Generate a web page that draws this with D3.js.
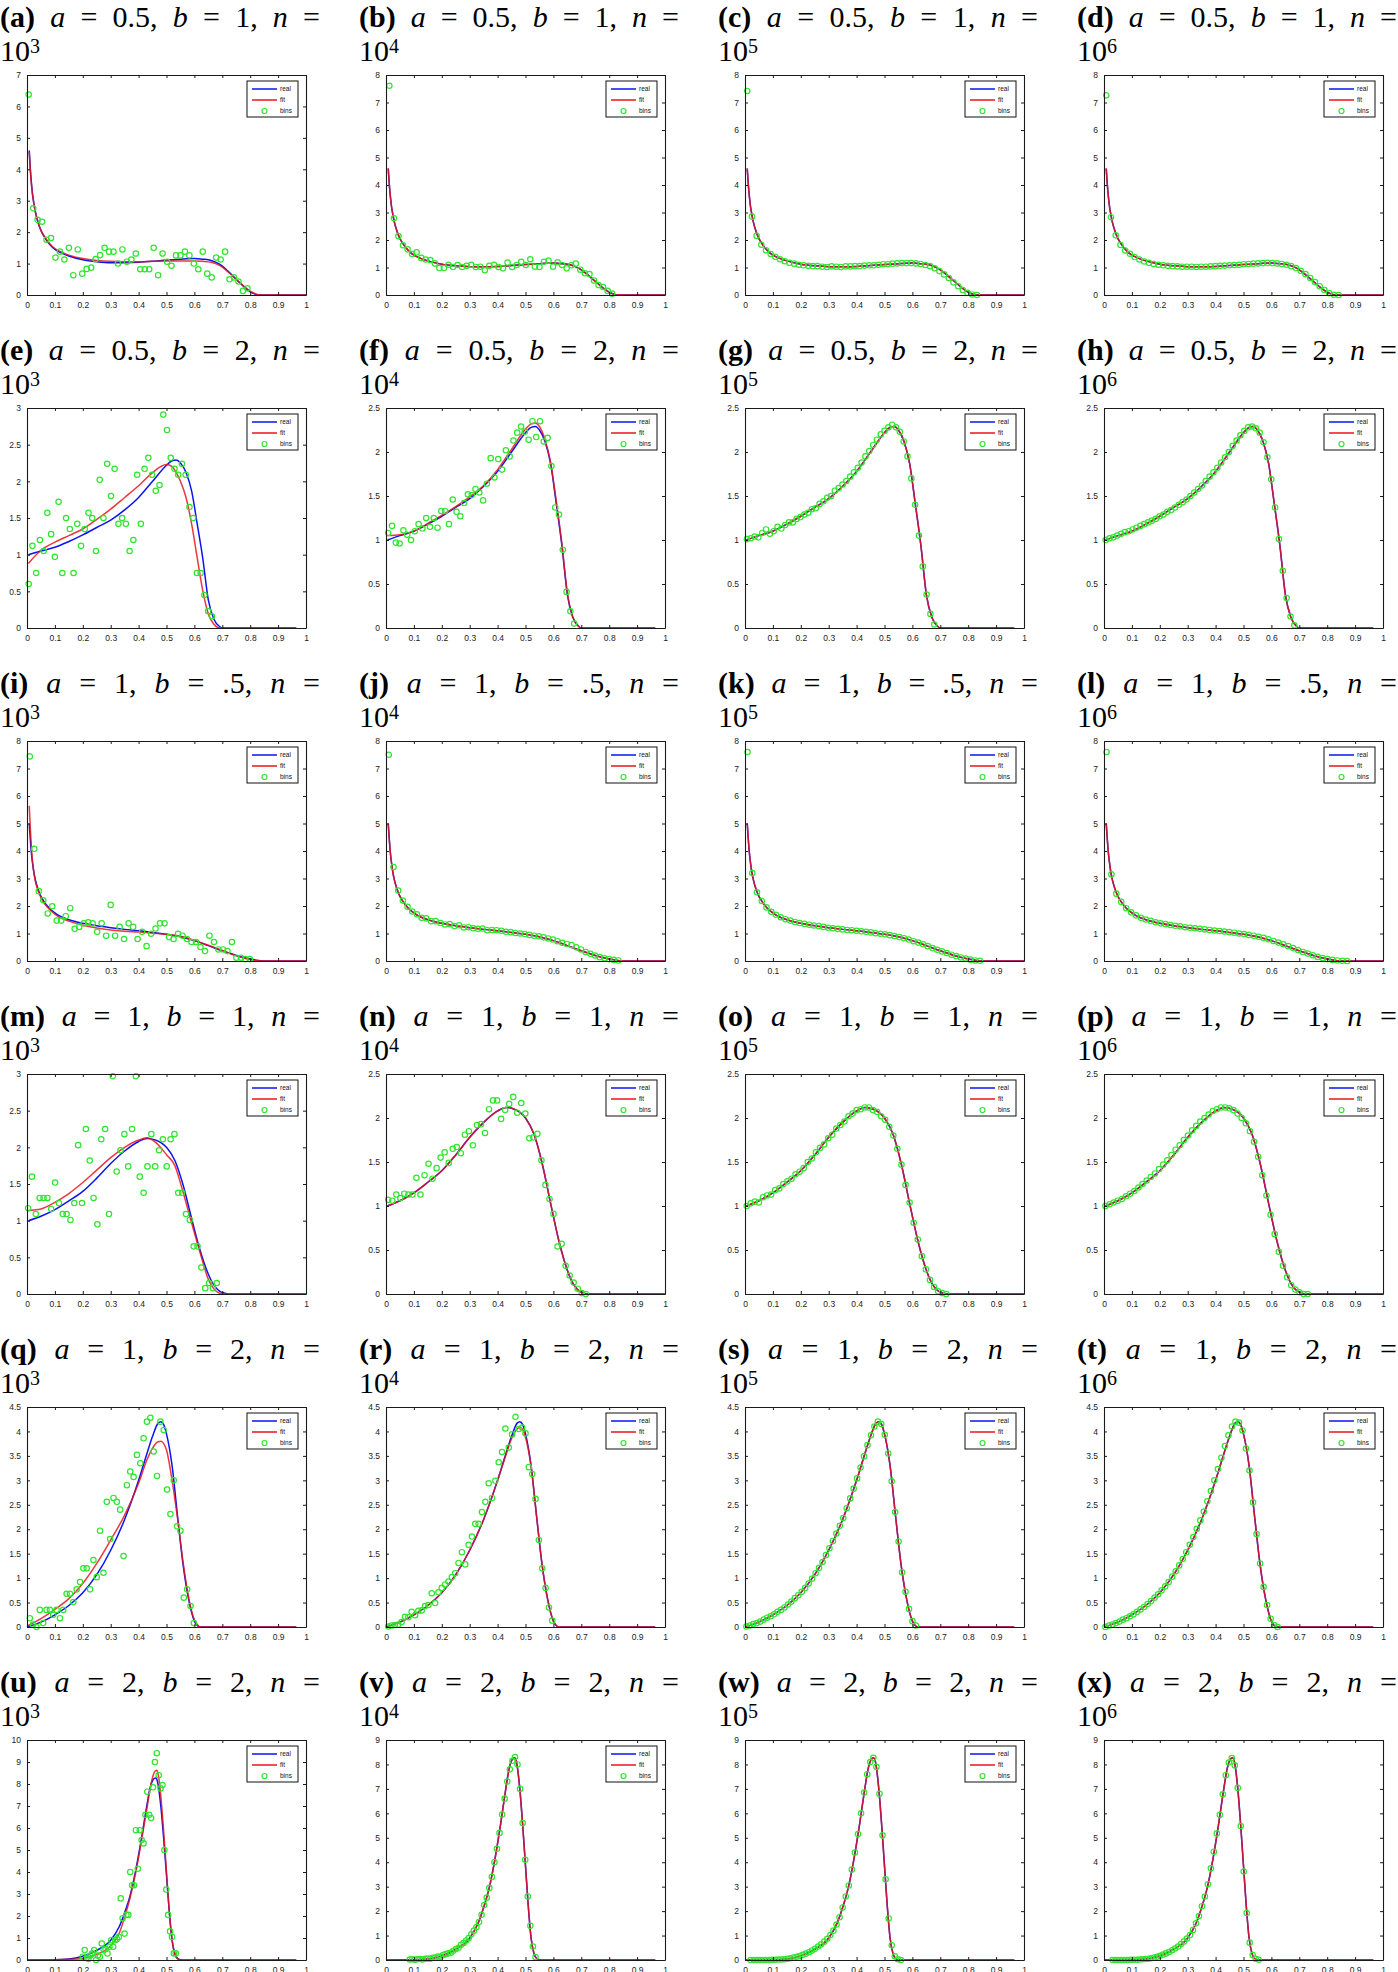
<!DOCTYPE html>
<html>
<head>
<meta charset="utf-8">
<script src="https://cdn.jsdelivr.net/npm/d3@7"></script>
<style>
  body { margin: 0; background: #fff; }
</style>
</head>
<body>
<svg id="chart" width="1398" height="1972"></svg>
<script>
// panel labels and parameters
const panelLetters = "abcdefghijklmnopqrstuvwx".split("");
const rowA = ["0.5", "0.5", "1", "1", "1", "2"];
const rowB = ["1", "2", ".5", "1", "2", "2"];
const sampleExp = ["3", "4", "5", "6"];
const noLegend = ["x"];

// axis ticks
const xTicks = [0, 0.1, 0.2, 0.3, 0.4, 0.5, 0.6, 0.7, 0.8, 0.9, 1];
const yTicks7 = [0, 1, 2, 3, 4, 5, 6, 7];
const yTicks8 = [0, 1, 2, 3, 4, 5, 6, 7, 8];
const yTicks3 = [0, 0.5, 1, 1.5, 2, 2.5, 3];
const yTicks25 = [0, 0.5, 1, 1.5, 2, 2.5];
const yTicks45 = [0, 0.5, 1, 1.5, 2, 2.5, 3, 3.5, 4, 4.5];
const yTicks9 = [0, 1, 2, 3, 4, 5, 6, 7, 8, 9];
const yTicks10 = [0, 1, 2, 3, 4, 5, 6, 7, 8, 9, 10];
const panelYTicks = [
  yTicks7, yTicks8, yTicks8, yTicks8,
  yTicks3, yTicks25, yTicks25, yTicks25,
  yTicks8, yTicks8, yTicks8, yTicks8,
  yTicks3, yTicks25, yTicks25, yTicks25,
  yTicks45, yTicks45, yTicks45, yTicks45,
  yTicks10, yTicks9, yTicks9, yTicks9
];

// real density curves, one per row (a, b)
const realX0 = [0.008,0.012,0.016,0.02,0.025,0.03,0.04,0.05,0.06,0.08,0.1,0.12,0.15,0.2,0.25,0.3,0.35,0.4,0.45,0.5,0.55,0.6,0.63,0.66,0.69,0.72,0.75,0.78,0.8,0.82,0.835,0.85,1.0];
const realY0 = [4.6,4.0,3.55,3.2,2.9,2.65,2.3,2.05,1.88,1.62,1.45,1.35,1.24,1.12,1.06,1.03,1.03,1.04,1.07,1.11,1.14,1.16,1.14,1.1,0.98,0.76,0.5,0.24,0.1,0.02,0,0,0];
const fitA0 = [4.55,3.95,3.5,3.17,2.88,2.64,2.3,2.06,1.9,1.65,1.48,1.38,1.27,1.16,1.1,1.07,1.06,1.06,1.07,1.08,1.08,1.08,1.07,1.04,0.94,0.74,0.5,0.26,0.12,0.03,0,0,0];

const realX1 = [0.005,0.05,0.1,0.15,0.2,0.25,0.3,0.35,0.4,0.45,0.5,0.52,0.535,0.55,0.57,0.59,0.61,0.63,0.65,0.67,0.69,0.7,0.965];
const realY1 = [1.0,1.05,1.1,1.18,1.27,1.37,1.47,1.61,1.78,2.0,2.22,2.28,2.29,2.25,2.12,1.87,1.42,0.95,0.38,0.12,0.02,0,0];
const fitE1 = [0.88,1.06,1.17,1.26,1.35,1.48,1.62,1.78,1.94,2.12,2.23,2.2,2.12,2.0,1.78,1.42,0.96,0.51,0.19,0.05,0,0,0];
const fitF1 = [1.05,1.06,1.1,1.19,1.28,1.38,1.49,1.62,1.8,2.03,2.26,2.32,2.33,2.29,2.14,1.88,1.45,0.97,0.4,0.12,0.02,0,0];

const realX2 = [0.008,0.012,0.016,0.02,0.025,0.03,0.04,0.05,0.06,0.08,0.1,0.12,0.15,0.2,0.25,0.3,0.35,0.4,0.45,0.5,0.55,0.6,0.65,0.7,0.75,0.8,0.83,0.86,1.0];
const realY2 = [5.0,4.4,3.9,3.55,3.2,2.95,2.6,2.35,2.18,1.92,1.75,1.62,1.5,1.37,1.28,1.21,1.15,1.1,1.04,0.97,0.88,0.74,0.56,0.37,0.2,0.07,0.02,0,0];
const fitI2 = [5.64,4.8,4.1,3.6,3.2,2.9,2.55,2.3,2.12,1.88,1.7,1.57,1.45,1.3,1.2,1.13,1.08,1.05,1.01,0.97,0.9,0.75,0.57,0.38,0.19,0.05,0.01,0,0];

const realX3 = [0.005,0.05,0.1,0.15,0.2,0.25,0.3,0.35,0.4,0.43,0.46,0.5,0.53,0.56,0.59,0.62,0.65,0.67,0.69,0.71,0.72,1.0];
const realY3 = [1.0,1.06,1.15,1.27,1.4,1.58,1.78,1.95,2.08,2.12,2.1,2.0,1.82,1.48,1.03,0.6,0.27,0.12,0.04,0.01,0,0];
const fitM3 = [1.14,1.16,1.25,1.37,1.52,1.69,1.86,2.0,2.1,2.13,2.07,1.9,1.75,1.38,0.97,0.57,0.2,0.07,0.01,0,0,0];

const realX4 = [0.0,0.05,0.1,0.15,0.2,0.25,0.3,0.35,0.4,0.43,0.45,0.47,0.48,0.49,0.5,0.52,0.54,0.56,0.58,0.6,0.61,0.62,0.965];
const realY4 = [0,0.1,0.25,0.44,0.7,1.07,1.57,2.2,3.0,3.55,3.9,4.17,4.2,4.14,3.95,3.3,2.25,1.25,0.55,0.12,0.03,0,0];
const fitQ4 = [0.02,0.17,0.36,0.58,0.89,1.3,1.78,2.29,2.94,3.42,3.66,3.79,3.8,3.75,3.62,3.0,2.2,1.3,0.58,0.15,0.05,0,0];
const fitR4 = [0,0.1,0.25,0.44,0.7,1.07,1.57,2.2,3.0,3.52,3.85,4.05,4.08,4.04,3.88,3.28,2.25,1.25,0.55,0.12,0.03,0,0];

const realX5 = [0.0,0.1,0.15,0.2,0.25,0.3,0.33,0.35,0.37,0.39,0.41,0.43,0.44,0.45,0.46,0.465,0.47,0.48,0.49,0.5,0.51,0.52,0.53,0.54,0.55,0.56,0.965];
const realY5 = [0,0.01,0.04,0.17,0.44,0.9,1.5,2.15,2.95,4.1,5.5,7.05,7.75,8.15,8.27,8.22,7.95,6.95,5.5,3.85,2.2,0.9,0.28,0.06,0.01,0,0];
const fitU5 = [0,0.01,0.03,0.07,0.25,0.65,1.2,1.95,2.85,4.0,5.4,6.9,7.7,8.3,8.6,8.62,8.45,7.4,5.8,4.0,2.2,0.9,0.25,0.05,0,0,0];

// histogram bins: first bin centre, bin width, heights
const binStart = [0.006,0.012,0.008,0.008, 0.006,0.008,0.007,0.006, 0.01,0.01,0.009,0.009, 0.004,0.008,0.006,0.005, 0.01,0.008,0.005,0.005, 0.2,0.085,0.02,0.03];
const binStep  = [0.016,0.0163,0.0168,0.017, 0.0134,0.0136,0.0137,0.0138, 0.0161,0.0168,0.017,0.0176, 0.0138,0.01445,0.0146,0.0148, 0.012,0.012,0.0124,0.0126, 0.0068,0.0092,0.011,0.0107];

const binsA = [6.38,2.76,2.39,2.33,1.76,1.81,1.19,1.38,1.13,1.5,0.63,1.45,0.68,0.83,0.87,1.14,1.27,1.5,1.38,1.38,1.0,1.45,1.06,1.13,1.32,0.82,0.82,0.82,1.5,0.63,1.32,1.06,0.93,1.26,1.26,1.38,1.26,1.0,0.82,1.38,0.68,0.56,1.19,1.13,1.38,0.5,0.56,0.43,0.13,0.21];
const binsB = [7.61,2.79,2.14,1.81,1.66,1.49,1.55,1.35,1.29,1.27,1.15,0.98,0.98,1.1,1.02,1.09,1.02,1.06,1.1,1.02,1.03,0.9,1.06,1.1,1.02,0.97,1.18,1.02,1.09,1.21,1.09,1.3,1.03,1.02,1.21,1.25,1.03,1.19,1.09,0.97,1.08,1.14,0.92,0.79,0.76,0.53,0.36,0.29,0.15,0.05];
const binsC = [7.42,2.85,2.15,1.83,1.63,1.49,1.39,1.3,1.23,1.17,1.14,1.1,1.08,1.06,1.05,1.05,1.03,1.02,1.04,1.03,1.02,1.04,1.04,1.05,1.05,1.07,1.08,1.08,1.1,1.12,1.12,1.14,1.15,1.16,1.16,1.16,1.15,1.13,1.09,1.05,0.97,0.87,0.75,0.62,0.46,0.32,0.18,0.08,0.02,0.0];
const binsD = [7.26,2.83,2.17,1.82,1.62,1.5,1.38,1.29,1.22,1.17,1.13,1.1,1.08,1.06,1.05,1.04,1.03,1.03,1.03,1.02,1.03,1.03,1.04,1.05,1.06,1.07,1.08,1.09,1.1,1.12,1.13,1.14,1.15,1.16,1.17,1.16,1.15,1.13,1.1,1.05,0.98,0.88,0.76,0.62,0.47,0.32,0.18,0.07,0.01,0.0];
const binsE = [0.6,1.12,0.75,1.2,1.05,1.57,1.28,0.97,1.72,0.75,1.5,1.35,0.75,1.42,1.12,1.35,1.57,1.5,1.05,2.02,1.5,2.24,1.8,2.17,1.42,1.5,1.42,1.05,1.2,2.09,1.42,2.17,2.32,2.09,1.87,1.95,2.91,2.7,2.32,2.17,2.09,2.24,2.09,1.65,1.5,0.75,0.75,0.45,0.23,0.16];
const binsF = [1.08,1.16,0.97,0.96,1.11,1.06,1.0,1.1,1.18,1.13,1.25,1.15,1.25,1.14,1.33,1.33,1.18,1.46,1.32,1.27,1.42,1.52,1.51,1.58,1.54,1.45,1.64,1.93,1.71,1.92,1.8,2.02,1.95,2.13,2.22,2.29,2.23,2.14,2.35,2.17,2.35,2.12,2.16,1.84,1.37,1.29,0.89,0.41,0.19,0.05];
const binsG = [1.01,1.02,1.04,1.03,1.08,1.12,1.07,1.1,1.15,1.13,1.17,1.2,1.2,1.24,1.26,1.29,1.31,1.35,1.36,1.41,1.44,1.48,1.5,1.56,1.59,1.63,1.67,1.72,1.77,1.82,1.88,1.95,2.01,2.08,2.14,2.2,2.24,2.28,2.31,2.28,2.23,2.12,1.95,1.7,1.4,1.05,0.7,0.38,0.16,0.04];
const binsH = [1.0,1.02,1.03,1.05,1.07,1.09,1.1,1.12,1.14,1.16,1.18,1.2,1.22,1.24,1.27,1.29,1.32,1.34,1.37,1.4,1.43,1.46,1.5,1.54,1.58,1.62,1.67,1.72,1.77,1.82,1.88,1.94,2.0,2.07,2.13,2.19,2.24,2.28,2.29,2.27,2.22,2.11,1.94,1.69,1.37,1.01,0.65,0.34,0.13,0.03];
const binsI = [7.44,4.08,2.54,2.21,1.73,1.99,1.47,1.47,1.63,1.92,1.17,1.24,1.37,1.41,1.37,1.06,1.37,0.92,2.04,0.92,1.24,0.8,1.37,1.24,0.8,1.06,0.54,0.99,1.18,1.37,1.37,0.87,0.8,0.99,0.92,0.8,0.69,0.69,0.51,0.36,0.92,0.69,0.42,0.42,0.36,0.69,0.12,0.12,0.07,0.07];
const binsJ = [7.5,3.42,2.56,2.2,1.97,1.8,1.7,1.57,1.55,1.45,1.45,1.38,1.33,1.34,1.27,1.3,1.22,1.23,1.19,1.17,1.18,1.12,1.13,1.12,1.1,1.06,1.05,1.02,1.0,0.98,0.95,0.92,0.9,0.86,0.82,0.78,0.72,0.66,0.62,0.58,0.5,0.42,0.33,0.26,0.2,0.14,0.1,0.07,0.04,0.02];
const binsK = [7.6,3.2,2.5,2.18,1.95,1.79,1.68,1.59,1.52,1.47,1.42,1.38,1.35,1.32,1.29,1.27,1.24,1.21,1.19,1.17,1.15,1.13,1.12,1.1,1.08,1.06,1.04,1.01,0.99,0.97,0.94,0.91,0.87,0.83,0.78,0.72,0.67,0.61,0.54,0.47,0.41,0.35,0.29,0.23,0.18,0.13,0.09,0.05,0.02,0.01];
const binsL = [7.6,3.15,2.45,2.15,1.92,1.77,1.66,1.57,1.51,1.46,1.41,1.37,1.34,1.31,1.28,1.26,1.23,1.21,1.19,1.17,1.15,1.13,1.11,1.09,1.07,1.05,1.03,1.0,0.98,0.95,0.92,0.88,0.84,0.79,0.73,0.67,0.61,0.54,0.47,0.4,0.33,0.27,0.21,0.15,0.11,0.07,0.04,0.02,0.01,0.0];
const binsM = [1.17,1.6,1.09,1.31,1.31,1.31,1.16,1.52,1.24,1.09,1.09,1.01,1.24,2.03,1.24,2.25,1.82,1.31,0.95,2.11,2.25,1.09,2.97,1.67,1.96,2.18,1.74,2.25,2.97,1.6,1.38,1.74,2.18,1.74,1.96,2.11,1.74,2.11,2.18,1.38,1.38,1.09,1.01,0.65,0.65,0.36,0.08,0.15,0.08,0.15];
const binsN = [1.07,1.06,1.13,1.09,1.14,1.13,1.13,1.32,1.13,1.35,1.48,1.31,1.43,1.55,1.61,1.49,1.65,1.67,1.6,1.81,1.85,1.69,1.92,1.93,1.83,2.1,2.2,2.2,1.99,2.09,2.16,2.24,2.06,2.17,2.05,1.77,1.78,1.82,1.52,1.24,1.08,0.91,0.54,0.57,0.32,0.21,0.13,0.06,0.01,0.0];
const binsO = [1.0,1.03,1.05,1.04,1.1,1.12,1.13,1.18,1.2,1.25,1.28,1.31,1.36,1.39,1.43,1.5,1.54,1.61,1.66,1.7,1.77,1.81,1.88,1.92,1.96,2.02,2.05,2.09,2.1,2.12,2.12,2.09,2.07,2.02,1.98,1.9,1.8,1.65,1.47,1.24,1.04,0.81,0.62,0.43,0.28,0.16,0.08,0.03,0.01,0.0];
const binsP = [1.0,1.02,1.04,1.06,1.08,1.11,1.14,1.17,1.21,1.25,1.29,1.33,1.37,1.42,1.47,1.52,1.58,1.64,1.69,1.75,1.8,1.86,1.91,1.96,2.0,2.04,2.08,2.1,2.12,2.12,2.11,2.09,2.05,2.0,1.94,1.85,1.73,1.56,1.35,1.12,0.9,0.68,0.48,0.32,0.19,0.1,0.05,0.02,0.0,0.0];
const binsQ = [0.18,0.05,0.0,0.35,0.08,0.35,0.35,0.25,0.35,0.18,0.35,0.68,0.68,0.51,0.77,0.92,1.2,1.2,0.77,1.37,1.02,1.97,1.11,2.56,1.8,2.64,2.56,2.4,1.45,2.9,3.18,3.07,3.52,3.35,3.86,4.2,4.28,3.59,3.09,4.2,4.03,2.81,2.31,3.0,2.06,1.97,0.6,0.77,0.43,0.08];
const binsR = [0.01,0.03,0.04,0.05,0.1,0.21,0.2,0.31,0.24,0.33,0.34,0.43,0.45,0.69,0.49,0.71,0.8,0.87,0.93,1.02,1.1,1.31,1.53,1.28,1.68,1.85,2.11,2.11,2.35,2.56,2.94,2.64,2.99,3.37,3.58,4.06,3.67,3.94,4.3,4.05,4.08,3.96,3.27,3.13,2.62,1.78,1.2,0.8,0.4,0.13];
const binsS = [0.01,0.03,0.06,0.08,0.11,0.15,0.19,0.22,0.26,0.31,0.35,0.4,0.46,0.52,0.59,0.65,0.72,0.8,0.89,0.99,1.1,1.21,1.33,1.47,1.61,1.76,1.91,2.07,2.23,2.43,2.63,2.83,3.04,3.26,3.49,3.72,3.92,4.1,4.2,4.15,3.93,3.55,2.98,2.35,1.75,1.12,0.72,0.37,0.12,0.03];
const binsT = [0.0,0.03,0.05,0.08,0.11,0.15,0.18,0.22,0.26,0.31,0.36,0.41,0.47,0.53,0.6,0.67,0.75,0.83,0.92,1.03,1.14,1.26,1.39,1.53,1.68,1.84,2.01,2.18,2.36,2.57,2.78,3.0,3.23,3.46,3.7,3.92,4.1,4.2,4.18,4.02,3.65,3.2,2.55,1.9,1.3,0.82,0.45,0.17,0.04,0.0];
const binsU = [0.15,0.45,0.1,0.05,0.2,0.3,0.45,0.0,0.2,0.15,0.75,0.45,0.5,0.3,0.6,0.9,0.6,0.9,0.95,1.05,2.8,1.9,1.2,2.05,2.05,4.0,3.4,3.4,5.9,4.15,5.9,5.45,5.3,6.6,7.65,6.6,6.45,7.85,9.0,9.4,8.4,7.8,7.95,5.0,3.2,2.05,1.3,1.05,0.3,0.3];
const binsV = [0.02,0.03,0.01,0.03,0.04,0.02,0.05,0.06,0.05,0.09,0.1,0.14,0.13,0.2,0.24,0.27,0.3,0.38,0.45,0.5,0.62,0.7,0.8,0.9,1.05,1.2,1.35,1.55,1.85,2.25,2.55,2.95,3.4,4.0,4.55,5.2,5.95,6.6,7.3,7.8,8.15,8.3,8.0,7.0,5.6,4.1,2.6,1.4,0.55,0.12];
const binsW = [0,0,0,0,0,0,0,0.01,0.01,0.02,0.02,0.03,0.05,0.07,0.1,0.13,0.16,0.21,0.26,0.32,0.39,0.46,0.55,0.64,0.75,0.87,1.02,1.2,1.45,1.75,2.15,2.6,3.05,3.7,4.4,5.15,6.0,6.85,7.6,8.1,8.27,7.9,6.8,5.1,3.3,1.7,0.6,0.15,0.03,0.0];
const binsX = [0,0,0,0,0,0,0.01,0.01,0.01,0.02,0.03,0.04,0.05,0.07,0.1,0.13,0.17,0.22,0.27,0.33,0.4,0.47,0.55,0.65,0.76,0.88,1.02,1.23,1.5,1.8,2.2,2.6,3.1,3.75,4.43,5.18,5.94,6.78,7.56,8.08,8.26,7.96,7.04,5.48,3.62,1.92,0.71,0.2,0.05,0.01];

const binsAll = [binsA,binsB,binsC,binsD,binsE,binsF,binsG,binsH,binsI,binsJ,binsK,binsL,binsM,binsN,binsO,binsP,binsQ,binsR,binsS,binsT,binsU,binsV,binsW,binsX];
const realXRows = [realX0, realX1, realX2, realX3, realX4, realX5];
const realYRows = [realY0, realY1, realY2, realY3, realY4, realY5];
const fitAll = [
  fitA0, realY0, realY0, realY0,
  fitE1, fitF1, realY1, realY1,
  fitI2, realY2, realY2, realY2,
  fitM3, realY3, realY3, realY3,
  fitQ4, fitR4, realY4, realY4,
  fitU5, realY5, realY5, realY5
];

// layout
const svg = d3.select("#chart");
const colW = 359, rowH = 333;
const plotLeft = 27, plotTop = 75, plotW = 279, plotH = 220;
const titleW = 320;
const blue = "#0a14f0", red = "#e8141c", green = "#2ee62e";
const sansFont = "'Liberation Sans', Arial, sans-serif";
const serifFont = "'Liberation Serif', 'Times New Roman', serif";

for (let r = 0; r < 6; r++) {
  for (let c = 0; c < 4; c++) {
    const idx = r * 4 + c;
    const panel = svg.append("g").attr("transform", `translate(${c * colW},${r * rowH})`);

    // first title line, justified to the text width by widening the gaps
    const pieces = [
      [`(${panelLetters[idx]})`, "bold"], ["a", "italic"], ["=", ""], [`${rowA[r]},`, ""],
      ["b", "italic"], ["=", ""], [`${rowB[r]},`, ""], ["n", "italic"], ["=", ""]
    ];
    const t1 = panel.append("text")
      .attr("x", 0).attr("y", 27)
      .attr("font-family", serifFont).attr("font-size", 30);
    const spans = pieces.map(p => {
      const s = t1.append("tspan").text(p[0]);
      if (p[1] === "bold") s.attr("font-weight", "bold");
      if (p[1] === "italic") s.attr("font-style", "italic");
      return s;
    });
    const natural = t1.node().getComputedTextLength();
    const gap = (titleW - natural) / (pieces.length - 1);
    spans.forEach((s, i) => { if (i > 0) s.attr("dx", gap); });

    const t2 = panel.append("text")
      .attr("x", 0).attr("y", 61)
      .attr("font-family", serifFont).attr("font-size", 30);
    t2.append("tspan").text("10");
    t2.append("tspan").attr("font-size", 20).attr("dy", -8).text(sampleExp[c]);

    // plot area
    const yTicks = panelYTicks[idx];
    const yMax = yTicks[yTicks.length - 1];
    const x = d3.scaleLinear().domain([0, 1]).range([0, plotW]);
    const y = d3.scaleLinear().domain([0, yMax]).range([plotH, 0]);
    const g = panel.append("g").attr("transform", `translate(${plotLeft},${plotTop})`);

    const line = d3.line()
      .x(d => x(d[0]))
      .y(d => y(d[1]))
      .curve(d3.curveMonotoneX);

    const xs = realXRows[r];
    const realPts = xs.map((v, i) => [v, realYRows[r][i]]);
    const fitPts = xs.map((v, i) => [v, fitAll[idx][i]]);

    g.append("path").datum(realPts)
      .attr("d", line).attr("fill", "none")
      .attr("stroke", blue).attr("stroke-width", 1.5);
    g.append("path").datum(fitPts)
      .attr("d", line).attr("fill", "none")
      .attr("stroke", red).attr("stroke-width", 1.5).attr("stroke-opacity", 0.85);

    const bins = binsAll[idx].map((v, i) => [binStart[idx] + i * binStep[idx], v]);
    g.selectAll("circle.bin").data(bins).enter()
      .append("circle").attr("class", "bin")
      .attr("cx", d => x(d[0])).attr("cy", d => y(d[1]))
      .attr("r", 2.7).attr("fill", "none")
      .attr("stroke", green).attr("stroke-width", 1.2);

    // axes: ticks inside on all four sides
    const fmt = d => String(+d.toFixed(1));
    const xAxis = g.append("g").attr("transform", `translate(0,${plotH})`)
      .call(d3.axisBottom(x).tickValues(xTicks).tickFormat(fmt).tickSizeInner(-3).tickSizeOuter(0).tickPadding(7));
    const yAxis = g.append("g")
      .call(d3.axisLeft(y).tickValues(yTicks).tickFormat(fmt).tickSizeInner(-3).tickSizeOuter(0).tickPadding(6));
    const topAxis = g.append("g")
      .call(d3.axisTop(x).tickValues(xTicks).tickFormat("").tickSizeInner(-3).tickSizeOuter(0));
    const rightAxis = g.append("g").attr("transform", `translate(${plotW},0)`)
      .call(d3.axisRight(y).tickValues(yTicks).tickFormat("").tickSizeInner(-3).tickSizeOuter(0));
    [xAxis, yAxis, topAxis, rightAxis].forEach(a => {
      a.select(".domain").attr("stroke", "#1a1a1a").attr("stroke-width", 1.1);
      a.selectAll(".tick line").attr("stroke", "#1a1a1a").attr("stroke-width", 1);
      a.selectAll(".tick text")
        .attr("font-family", sansFont).attr("font-size", 8.5)
        .attr("fill", "#222");
    });

    // legend
    if (!noLegend.includes(panelLetters[idx])) {
      const lg = g.append("g").attr("transform", `translate(${plotW - 59},6)`);
      lg.append("rect").attr("width", 51).attr("height", 36)
        .attr("fill", "#fff").attr("stroke", "#111").attr("stroke-width", 1);
      const entries = ["real", "fit", "bins"];
      const rowsY = [8, 19, 30];
      lg.append("line").attr("x1", 5).attr("x2", 30).attr("y1", rowsY[0]).attr("y2", rowsY[0])
        .attr("stroke", blue).attr("stroke-width", 1.5);
      lg.append("line").attr("x1", 5).attr("x2", 30).attr("y1", rowsY[1]).attr("y2", rowsY[1])
        .attr("stroke", red).attr("stroke-width", 1.5);
      lg.append("circle").attr("cx", 17.5).attr("cy", rowsY[2]).attr("r", 2.5)
        .attr("fill", "none").attr("stroke", green).attr("stroke-width", 1.2);
      entries.forEach((e, i) => {
        lg.append("text").attr("x", 33).attr("y", rowsY[i] + 2.2)
          .attr("font-family", sansFont).attr("font-size", 6.5).attr("fill", "#111")
          .text(e);
      });
    }
  }
}
</script>
</body>
</html>
